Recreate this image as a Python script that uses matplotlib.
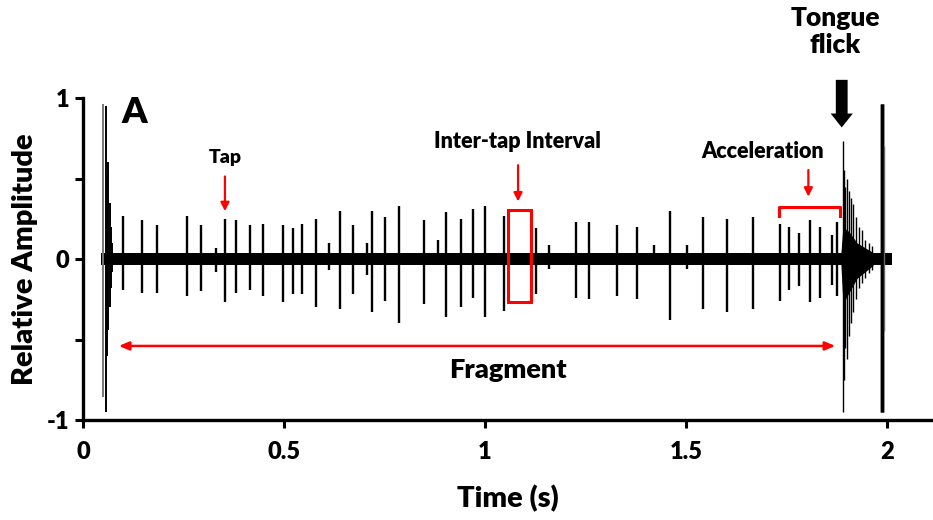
import matplotlib
matplotlib.use("Agg")
import matplotlib.pyplot as plt
from matplotlib.patches import Rectangle

plt.rcParams['font.family'] = ['Lato', 'DejaVu Sans']

# ---- data ----
# individual taps: time (s), positive peak, negative peak (relative amplitude)
tap_t = [0.100, 0.146, 0.183, 0.259, 0.293, 0.331, 0.353, 0.380, 0.415, 0.447,
         0.497, 0.522, 0.544, 0.580, 0.612, 0.638, 0.672, 0.707, 0.720, 0.750,
         0.787, 0.849, 0.884, 0.903, 0.939, 0.969, 1.001, 1.046, 1.126, 1.159,
         1.226, 1.259, 1.329, 1.377, 1.419, 1.460, 1.503, 1.541, 1.601, 1.666,
         1.734, 1.755, 1.780, 1.808, 1.834, 1.862, 1.876]
tap_pos = [0.27, 0.24, 0.21, 0.27, 0.21, 0.07, 0.25, 0.24, 0.21, 0.22,
           0.21, 0.19, 0.22, 0.25, 0.10, 0.30, 0.21, 0.10, 0.30, 0.26,
           0.33, 0.24, 0.12, 0.29, 0.25, 0.31, 0.33, 0.27, 0.19, 0.09,
           0.23, 0.23, 0.21, 0.20, 0.09, 0.30, 0.09, 0.26, 0.25, 0.26,
           0.22, 0.20, 0.16, 0.24, 0.20, 0.15, 0.23]
tap_neg = [-0.19, -0.21, -0.21, -0.23, -0.20, -0.08, -0.27, -0.21, -0.19, -0.23,
           -0.27, -0.22, -0.22, -0.30, -0.07, -0.31, -0.22, -0.10, -0.33, -0.26,
           -0.40, -0.28, -0.04, -0.36, -0.30, -0.24, -0.36, -0.32, -0.22, -0.06,
           -0.24, -0.25, -0.23, -0.25, -0.03, -0.38, -0.06, -0.31, -0.33, -0.31,
           -0.26, -0.19, -0.17, -0.27, -0.24, -0.16, -0.23]

# onset burst at start of the recording
onset_t = [0.050, 0.057, 0.060, 0.063, 0.066, 0.069, 0.072]
onset_pos = [0.96, 0.95, 0.52, 0.60, 0.35, 0.20, 0.10]
onset_neg = [-0.86, -0.95, -0.60, -0.44, -0.30, -0.18, -0.08]

# tongue flick and following ringing
flick_t = [1.889, 1.892, 1.896, 1.900, 1.905, 1.910, 1.916, 1.922, 1.930, 1.938, 1.946, 1.955, 1.963]
flick_pos = [0.73, 0.55, 0.45, 0.50, 0.42, 0.38, 0.34, 0.26, 0.20, 0.18, 0.12, 0.10, 0.08]
flick_neg = [-0.95, -0.75, -0.55, -0.62, -0.48, -0.40, -0.33, -0.25, -0.18, -0.15, -0.12, -0.09, -0.07]
flick_env_t = [1.885, 1.890, 1.905, 1.925, 1.945, 1.965]
flick_env_top = [0.04, 0.20, 0.17, 0.10, 0.07, 0.04]
flick_env_bot = [-0.04, -0.28, -0.21, -0.12, -0.08, -0.04]

# final spike at end of recording
end_t = [1.986, 1.988, 1.993]
end_pos = [0.96, 0.96, 0.70]
end_neg = [-0.95, -0.95, -0.45]

# background noise band
band_t = [0.046, 2.012]
band_level = 0.038

# ---- figure ----
fig = plt.figure(figsize=(9.33, 5.2), dpi=100)
ax = fig.add_axes([83/933, 100/520, 850/933, 322/520])

ax.fill_between(band_t, [-band_level]*2, [band_level]*2, color='black', lw=0)
ax.vlines(tap_t, tap_neg, tap_pos, color='black', lw=1.7)
ax.vlines(onset_t, onset_neg, onset_pos,
          color=['#777777', 'black', 'black', 'black', 'black', 'black', 'black'], lw=1.4)
ax.fill_between(flick_env_t, flick_env_bot, flick_env_top, color='black', lw=0)
ax.vlines(flick_t, flick_neg, flick_pos, color='black', lw=1.0)
ax.vlines(end_t, end_neg, end_pos, color=['black', 'black', '#666666'], lw=[2.5, 2.5, 1.0])

ax.set_xlim(0, 2.114)
ax.set_ylim(-1, 1)
ax.set_xticks([0, 0.5, 1, 1.5, 2])
ax.set_xticklabels(['0', '0.5', '1', '1.5', '2'])
ax.set_yticks([-1, 0, 1])
ax.set_yticklabels(['-1', '0', '1'])
ax.set_yticks([-0.5, 0.5], minor=True)
for s in ['top', 'right']:
    ax.spines[s].set_visible(False)
for s in ['left', 'bottom']:
    ax.spines[s].set_linewidth(2.4)
ax.tick_params(axis='both', which='both', direction='out', length=6, width=2.2)
ax.tick_params(axis='x', pad=9, labelsize=17)
ax.tick_params(axis='y', pad=4, labelsize=17)
for lab in ax.get_xticklabels() + ax.get_yticklabels():
    lab.set_fontweight('heavy')

ax.set_xlabel('Time (s)', fontsize=21, fontweight='heavy', labelpad=16)
ax.set_ylabel('Relative Amplitude', fontsize=21, fontweight='heavy', labelpad=6)

red = '#ff0000'
# panel letter
ax.text(0.095, 0.91, 'A', fontsize=26, fontweight='heavy', ha='left', va='center')

# Tap
ax.text(0.353, 0.63, 'Tap', fontsize=14, fontweight='heavy', ha='center', va='center')
ax.annotate('', xy=(0.353, 0.28), xytext=(0.353, 0.53),
            arrowprops=dict(arrowstyle='-|>,head_width=0.25,head_length=0.5', color=red, lw=1.6))

# Inter-tap interval
ax.text(1.08, 0.73, 'Inter-tap Interval', fontsize=15.5, fontweight='heavy', ha='center', va='center')
ax.annotate('', xy=(1.082, 0.34), xytext=(1.082, 0.60),
            arrowprops=dict(arrowstyle='-|>,head_width=0.25,head_length=0.5', color=red, lw=1.6))
ax.add_patch(Rectangle((1.056, -0.265), 0.057, 0.57, fill=False, ec=red, lw=2.2))

# Acceleration
ax.text(1.69, 0.67, 'Acceleration', fontsize=15.5, fontweight='heavy', ha='center', va='center')
ax.annotate('', xy=(1.804, 0.37), xytext=(1.804, 0.57),
            arrowprops=dict(arrowstyle='-|>,head_width=0.25,head_length=0.5', color=red, lw=1.6))
ax.plot([1.731, 1.731, 1.883, 1.883], [0.27, 0.32, 0.32, 0.27], color=red, lw=2.2)

# Fragment
ax.annotate('', xy=(0.082, -0.54), xytext=(1.878, -0.54),
            arrowprops=dict(arrowstyle='<|-|>,head_width=0.25,head_length=0.6', color=red, lw=1.8))
ax.text(1.057, -0.69, 'Fragment', fontsize=19.5, fontweight='heavy', ha='center', va='center')

# Tongue flick
ax.text(1.87, 1.41, 'Tongue\nflick', fontsize=19, fontweight='heavy', ha='center', va='center',
        linespacing=1.15, clip_on=False)
ax.annotate('', xy=(1.887, 0.80), xytext=(1.887, 1.13),
            arrowprops=dict(arrowstyle='simple,head_width=1.6,head_length=1.0,tail_width=0.85',
                            color='black', lw=0), annotation_clip=False)

fig.savefig('out.png', dpi=100)
